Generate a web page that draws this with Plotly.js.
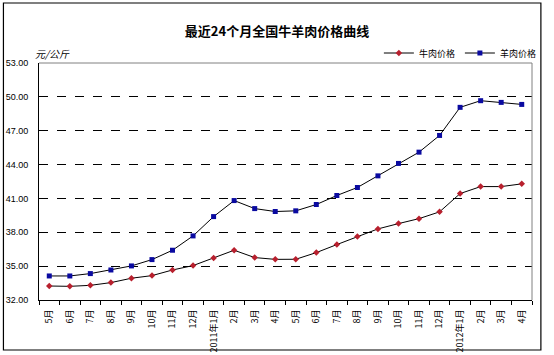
<!DOCTYPE html>
<html>
<head>
<meta charset="utf-8">
<script src="https://cdn.plot.ly/plotly-3.0.1.min.js"></script>
<style>html,body{margin:0;padding:0;background:#fff;}</style>
</head>
<body>
<div id="chart" style="width:554px;height:355px;"></div>
<script>
const months = ["5月","6月","7月","8月","9月","10月","11月","12月","2011年1月","2月","3月","4月","5月","6月","7月","8月","9月","10月","11月","12月","2012年1月","2月","3月","4月"];
const beefPrice = [33.24,33.21,33.30,33.54,33.93,34.16,34.66,35.05,35.73,36.41,35.76,35.60,35.61,36.20,36.91,37.62,38.30,38.77,39.21,39.81,41.43,42.05,42.05,42.29];
const muttonPrice = [34.13,34.13,34.34,34.66,35.02,35.58,36.41,37.68,39.39,40.81,40.10,39.84,39.90,40.46,41.26,41.97,43.00,44.10,45.10,46.58,49.07,49.66,49.51,49.33];
const yTicks = [32,35,38,41,44,47,50,53];
const seriesNames = ["牛肉价格","羊肉价格"];

const idx = months.map((m,i)=>i);
const boundaries = months.map((m,i)=>i-0.5).concat([months.length-0.5]);

const FONT = "Liberation Sans, Arial, Noto Sans CJK SC, sans-serif";
const CJK = "Noto Sans CJK SC, sans-serif";

const traces = [
  {x: idx, y: beefPrice, name: seriesNames[0], type:'scatter', mode:'lines+markers',
   line:{color:'#000000', width:1}, marker:{symbol:'diamond', size:5, color:'#b8202e'}},
  {x: idx, y: muttonPrice, name: seriesNames[1], type:'scatter', mode:'lines+markers',
   line:{color:'#000000', width:1}, marker:{symbol:'square', size:5, color:'#0a0aa0'}}
];

const L=39, R=538, T=63, B=300;
const px = v => (v-L)/(R-L);
const py = v => (B-v)/(B-T);

const layout = {
  width:554, height:355,
  margin:{l:L, r:554-R, t:T, b:355-B},
  paper_bgcolor:'#ffffff', plot_bgcolor:'#ffffff',
  font:{family:FONT, size:10, color:'#000'},
  showlegend:true,
  title:{text:'<b>最近24个月全国牛羊肉价格曲线</b>', x:0.5, xanchor:'center', xref:'container',
         y:1-31/355, yanchor:'middle', yref:'container',
         font:{family:CJK, size:13, color:'#000'}},
  legend:{orientation:'h', x:px(548), xanchor:'right', y:py(53), yanchor:'middle',
          font:{family:CJK, size:9}, bgcolor:'rgba(0,0,0,0)',
          itemwidth:30, tracegroupgap:0},
  xaxis:{type:'linear', range:[-0.5, months.length-0.5], tickmode:'array', tickvals:idx, ticktext:months,
         tickangle:-90, ticks:'', showgrid:false, zeroline:false,
         showline:true, linecolor:'#000', linewidth:1,
         tickfont:{family:CJK, size:9},
         ticklabelstandoff:5,
         minor:{tickmode:'array', tickvals:boundaries, ticks:'outside', ticklen:4, tickcolor:'#000', showgrid:false}},
  yaxis:{range:[32,53], tickmode:'array', tickvals:yTicks, ticktext:yTicks.map(v=>v.toFixed(2)),
         ticks:'', showgrid:true, gridcolor:'#000', griddash:'dash', gridwidth:1,
         zeroline:false, showline:true, linecolor:'#000', linewidth:1,
         tickfont:{family:FONT, size:9}, ticklabelstandoff:8},
  annotations:[
    {text:'<i>元/公斤</i>', xref:'paper', yref:'paper', x:px(33), y:py(53), xanchor:'left', yanchor:'middle',
     showarrow:false, font:{family:CJK, size:10}}
  ],
  shapes:[
    {type:'path', xref:'paper', yref:'paper', path:`M 0 1 L 1 1 L 1 0`, line:{color:'#808080', width:1}, layer:'above'},
    {type:'rect', xref:'paper', yref:'paper', x0:px(3), x1:px(547), y0:py(350), y1:py(3),
     line:{color:'#000', width:1.2}, layer:'above'}
  ]
};

Plotly.newPlot('chart', traces, layout, {displayModeBar:false, staticPlot:true});
</script>
</body>
</html>
